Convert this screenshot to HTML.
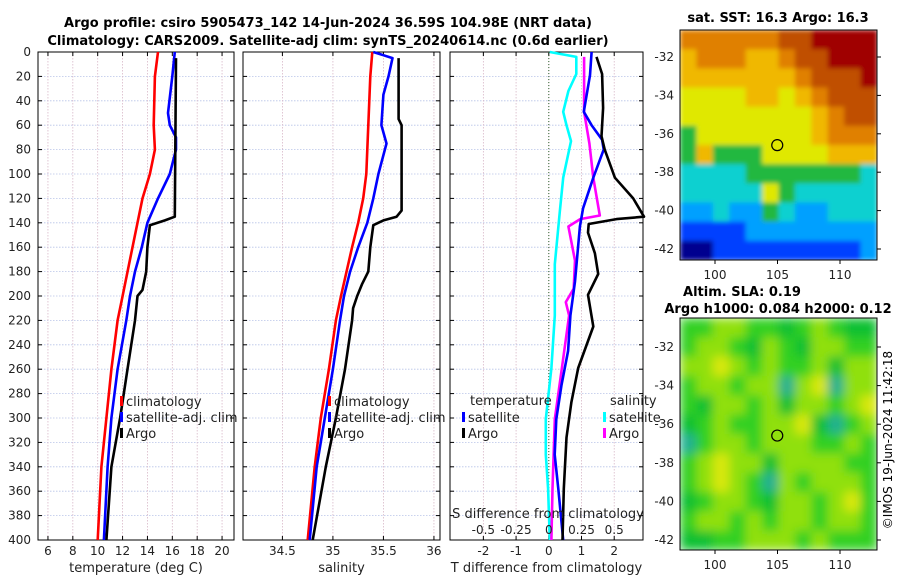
<!DOCTYPE html>
<html><head><meta charset="utf-8"><style>
body{margin:0;background:#fff;}
svg{display:block;font-family:"DejaVu Sans","Liberation Sans",sans-serif;}
</style></head><body>
<svg id="fig" width="900" height="580" viewBox="0 0 900 580">
<defs>
<filter id="blurS" x="0" y="0" width="1" height="1"><feGaussianBlur stdDeviation="2.5" edgeMode="duplicate"/></filter>
<filter id="blurL" x="0" y="0" width="1" height="1"><feGaussianBlur stdDeviation="5" edgeMode="duplicate"/></filter>
</defs>
<text x="328" y="27" font-size="13" font-weight="bold" text-anchor="middle">Argo profile: csiro 5905473_142 14-Jun-2024 36.59S 104.98E (NRT data)</text>
<text x="328" y="45" font-size="13" font-weight="bold" text-anchor="middle">Climatology: CARS2009. Satellite-adj clim: synTS_20240614.nc (0.6d earlier)</text>
<text x="778" y="22" font-size="13" font-weight="bold" text-anchor="middle">sat. SST: 16.3 Argo: 16.3</text>
<text x="742" y="296" font-size="13" font-weight="bold" text-anchor="middle">Altim. SLA: 0.19</text>
<text x="778" y="313" font-size="13" font-weight="bold" text-anchor="middle">Argo h1000: 0.084 h2000: 0.12</text>
<text x="0" y="0" font-size="12" text-anchor="middle" transform="translate(892,440) rotate(-90)">©IMOS 19-Jun-2024 11:42:18</text>
<g id="plots"></g>
</svg>
<script>
// ---- profile data ----
const depthClim=[0,20,60,80,100,120,140,160,200,220,260,300,340,400];
const tempClim=[14.85,14.6,14.5,14.6,14.2,13.6,13.2,12.8,12.0,11.6,11.1,10.7,10.3,10.0];
const depthSat=[0,20,50,60,70,80,100,120,140,160,180,200,220,260,300,340,400];
const tempSat=[16.2,16.0,15.65,15.8,16.3,16.3,15.8,14.85,14.0,13.55,13.0,12.6,12.3,11.6,11.1,10.8,10.5];
const depthArgo=[5,135,138,142,160,180,195,200,220,260,300,340,400];
const tempArgo=[16.3,16.2,15.4,14.2,14.0,13.9,13.6,13.2,13.0,12.4,11.8,11.1,10.7];
const salClim=[35.39,35.37,35.35,35.34,35.33,35.3,35.25,35.19,35.08,35.03,34.96,34.88,34.82,34.75];
const depthSatS=[0,5,20,35,60,75,100,120,140,160,180,200,220,260,300,340,400];
const salSat=[35.4,35.59,35.55,35.5,35.48,35.53,35.45,35.4,35.34,35.25,35.17,35.11,35.07,35.0,34.92,34.84,34.77];
const depthArgoS=[5,55,60,130,135,138,142,160,180,190,200,210,220,260,300,340,400];
const salArgo=[35.65,35.65,35.68,35.68,35.63,35.5,35.4,35.37,35.35,35.29,35.24,35.2,35.19,35.12,35.03,34.93,34.8];
const depthDT=[0,19,49,60,72,80,103,128,143,188,216,245,273,301,330,358,400];
const dTSat=[1.31,1.26,1.07,1.31,1.63,1.68,1.36,1.05,0.95,0.8,0.66,0.59,0.39,0.23,0.18,0.29,0.44];
const depthDTA=[4,18,46,69,80,103,120,135,137,141,148,165,182,199,225,259,287,316,358,400];
const dTArgo=[1.46,1.63,1.66,1.61,1.71,2.02,2.58,2.91,2.07,1.22,1.2,1.41,1.51,1.2,1.36,0.9,0.69,0.54,0.46,0.42];
const depthDS=[0,4,18,32,49,60,73,103,131,174,216,259,301,330,358,400];
const dSSat=[0.008,0.21,0.21,0.15,0.11,0.135,0.17,0.11,0.084,0.046,0.046,0.02,-0.023,-0.023,-0.005,0.008];
const depthDSA=[4,49,75,103,134,137,143,171,194,205,216,259,301,358,400];
const dSArgo=[0.27,0.27,0.31,0.34,0.39,0.24,0.15,0.2,0.19,0.13,0.155,0.1,0.046,0.028,0.02];
const depthTicks=[0,20,40,60,80,100,120,140,160,180,200,220,240,260,280,300,320,340,360,380,400];
const tempTicks=[6,8,10,12,14,16,18,20];
const salTicks=[34.5,35,35.5,36];
const dTTicks=[-2,-1,0,1,2];
const dSTicks=[-0.5,-0.25,0,0.25,0.5];
const sstGrid=["777777889999","677766788999","666666678889","555566567888","555555556788","455555556777","464445555666","333344444443","333335433333","223224322333","111122222222","001111111112"];
const slaGrid=["223322123211","233213213322","334323223133","233233034033","213323133234","123223341023","023323332232","234331333322","234320323332","123321332342","233232332332","112233323222"];
const sstLat=[-32,-34,-36,-38,-40,-42];
const lonTicks=[100,105,110];

const NS="http://www.w3.org/2000/svg";
const root=document.getElementById('plots');
function mk(tag,attrs,parent){const e=document.createElementNS(NS,tag);for(const k in attrs)e.setAttribute(k,attrs[k]);(parent||root).appendChild(e);return e;}
const Y0=52,Y1=540;
const yD=d=>Y0+(d/400)*(Y1-Y0);

function panel(name,x0,x1,xmin,xmax,ticks,fmt,xlabel,showY){
  const g=mk('g',{});
  
  
  const sx=v=>x0+(v-xmin)/(xmax-xmin)*(x1-x0);
  depthTicks.forEach(d=>{const l=mk('line',{x1:x0,x2:x1,y1:yD(d),y2:yD(d),stroke:'#b8c4e8','stroke-width':0.8,'stroke-dasharray':'1.5,1.5'},g);
    
    mk('line',{x1:x0,x2:x0+4,y1:yD(d),y2:yD(d),stroke:'#000'},g);mk('line',{x1:x1-4,x2:x1,y1:yD(d),y2:yD(d),stroke:'#000'},g);
    if(showY){const t=mk('text',{x:x0-7,y:yD(d)+4,'font-size':12,'text-anchor':'end',fill:'#222'},g);t.textContent=d;
      }
  });
  ticks.forEach(v=>{const l=mk('line',{x1:sx(v),x2:sx(v),y1:Y0,y2:Y1,stroke:'#d8b8c8','stroke-width':0.8,'stroke-dasharray':'1.5,1.5'},g);
    
    mk('line',{x1:sx(v),x2:sx(v),y1:Y1-4,y2:Y1,stroke:'#000'},g);mk('line',{x1:sx(v),x2:sx(v),y1:Y0,y2:Y0+4,stroke:'#000'},g);
    const t=mk('text',{x:sx(v),y:555,'font-size':12,'text-anchor':'middle',fill:'#222'},g);t.textContent=fmt(v);
    });
  const r=mk('rect',{x:x0,y:Y0,width:x1-x0,height:Y1-Y0,fill:'none',stroke:'#000','stroke-width':1},g);
  
  const t=mk('text',{x:(x0+x1)/2,y:572,'font-size':13,'text-anchor':'middle',fill:'#222'},g);t.textContent=xlabel;
  
  return {g,sx};
}
function line(p,xs,ds,color,name,scale){
  const pts=xs.map((v,i)=>p.sx(v*(scale||1)).toFixed(1)+','+yD(ds[i]).toFixed(1)).join(' ');
  const l=mk('polyline',{points:pts,fill:'none',stroke:color,'stroke-width':2.6,'stroke-linejoin':'round'},p.g);
  
}
function legend(g,x,y,color,label,name){
  const m=mk('rect',{x:x,y:y-10,width:3,height:10,fill:color},g);
  
  const t=mk('text',{x:x+6,y:y,'font-size':13,fill:'#222'},g);t.textContent=label;
  
}
// Panel 1
const p1=panel('temperature-panel',38,234,5.2,20.96,tempTicks,v=>v,'temperature (deg C)',true);
line(p1,tempClim,depthClim,'#ff0000','climatology-temp-line');
line(p1,tempSat,depthSat,'#0000ff','satellite-temp-line');
line(p1,tempArgo,depthArgo,'#000','argo-temp-line');
legend(p1.g,120,406,'#ff0000','climatology','legend-climatology');
legend(p1.g,120,422,'#0000ff','satellite-adj. clim','legend-satellite');
legend(p1.g,120,438,'#000','Argo','legend-argo');
// Panel 2
const p2=panel('salinity-panel',243,440,34.11,36.06,salTicks,v=>v,'salinity',false);
line(p2,salClim,depthClim,'#ff0000','climatology-sal-line');
line(p2,salSat,depthSatS,'#0000ff','satellite-sal-line');
line(p2,salArgo,depthArgoS,'#000','argo-sal-line');
legend(p2.g,328,406,'#ff0000','climatology','legend-climatology');
legend(p2.g,328,422,'#0000ff','satellite-adj. clim','legend-satellite');
legend(p2.g,328,438,'#000','Argo','legend-argo');
// Panel 3
const p3=panel('difference-panel',450,643,-3.02,2.88,dTTicks,v=>v,'T difference from climatology',false);
const z=mk('line',{x1:p3.sx(0),x2:p3.sx(0),y1:Y0,y2:Y1,stroke:'#336633','stroke-width':1,'stroke-dasharray':'1,2'},p3.g);

line(p3,dSSat,depthDS,'#00ffff','sat-sal-diff-line',4);
line(p3,dSArgo,depthDSA,'#ff00ff','argo-sal-diff-line',4);
line(p3,dTSat,depthDT,'#0000ff','sat-temp-diff-line');
line(p3,dTArgo,depthDTA,'#000','argo-temp-diff-line');
{const t=mk('text',{x:470,y:405,'font-size':13,fill:'#222'},p3.g);t.textContent='temperature';}
{const t=mk('text',{x:610,y:405,'font-size':13,fill:'#222'},p3.g);t.textContent='salinity';}
legend(p3.g,462,422,'#0000ff','satellite','legend-temp-satellite');
legend(p3.g,462,438,'#000','Argo','legend-temp-argo');
legend(p3.g,603,422,'#00ffff','satellite','legend-sal-satellite');
legend(p3.g,603,438,'#ff00ff','Argo','legend-sal-argo');
{const t=mk('text',{x:548,y:518,'font-size':13,'text-anchor':'middle',fill:'#222'},p3.g);t.textContent='S difference from climatology';}
dSTicks.forEach(v=>{const t=mk('text',{x:p3.sx(v*4),y:534,'font-size':12,'text-anchor':'middle',fill:'#222'},p3.g);t.textContent=v;
  });

// Maps
const jet=['#00008f','#0040ff','#00a0ff','#10d0d0','#20b840','#e0e800','#f0b800','#e08000','#c05000','#a00000'];
const slaCol=['#20b090','#10c030','#30d020','#90e010','#d8e810'];
function map(name,x0,y0,w,h,grid,cols,latTop,latStep,blur){
  const g=mk('g',{});
  
  const cg=mk('g',{filter:'url(#'+blur+')'},g);
  const n=grid.length,m=grid[0].length,cw=w/m,ch=h/n;
  grid.forEach((row,i)=>{for(let j=0;j<m;j++){const c=mk('rect',{x:x0+j*cw,y:y0+i*ch,width:cw+0.5,height:ch+0.5,fill:cols[+row[j]]},cg);
    }});
  const r=mk('rect',{x:x0,y:y0,width:w,height:h,fill:'none',stroke:'#000'},g);
  
  sstLat.forEach((lat,i)=>{const y=latTop+i*latStep;mk('line',{x1:x0+w,x2:x0+w+4,y1:y,y2:y,stroke:'#000'},g);
    const t=mk('text',{x:x0-6,y:y+4,'font-size':12,'text-anchor':'end',fill:'#222'},g);t.textContent=lat;
    });
  lonTicks.forEach(lon=>{const x=x0+35+(lon-100)*12.5;mk('line',{x1:x,x2:x,y1:y0+h,y2:y0+h+4,stroke:'#000'},g);
    const t=mk('text',{x:x,y:y0+h+19,'font-size':12,'text-anchor':'middle',fill:'#222'},g);t.textContent=lon;
    });
  const c=mk('circle',{cx:x0+35+4.98*12.5,cy:latTop+(36.59-32)/2*latStep,r:5.5,fill:'none',stroke:'#000','stroke-width':1.2},g);
  
}
map('sst-map',680,30,197,230,sstGrid,jet,57,38.4,'blurS');
map('sla-map',680,318,197,232,slaGrid,slaCol,347,38.6,'blurL');
</script>
</body></html>
